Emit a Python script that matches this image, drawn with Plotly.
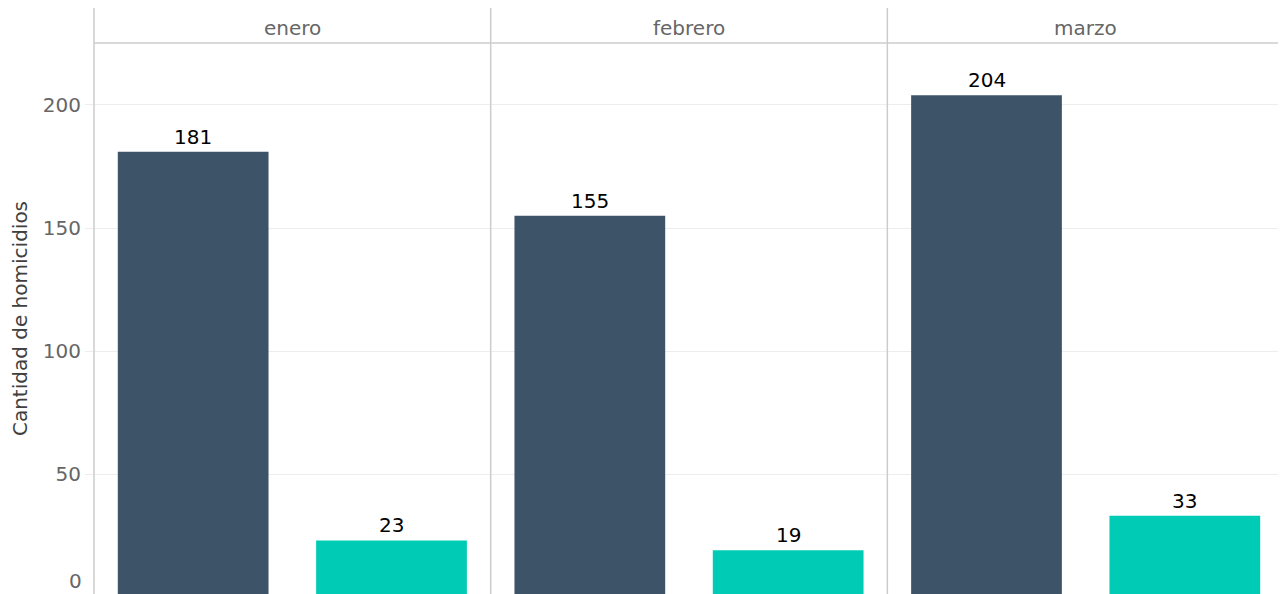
import plotly.graph_objects as go
from plotly.subplots import make_subplots

meses = ["enero", "febrero", "marzo"]
grupos = ["Grupo 1", "Grupo 2"]
valores = {
    "enero": [181, 23],
    "febrero": [155, 19],
    "marzo": [204, 33],
}
colores = ["#3D5468", "#00CBB5"]
y_ticks = [50, 100, 150, 200]

# page has an 8px body margin; the figure is sized to fill the rest of the window
W, H = 1278, 586
ML, MR, MT, MB = 86, 2, 35, 0
plot_h = H - MT - MB
FONT = "DejaVu Sans"
FS = 20

fig = make_subplots(rows=1, cols=3, shared_yaxes=True, horizontal_spacing=0)

for i, mes in enumerate(meses):
    fig.add_trace(
        go.Bar(
            x=grupos,
            y=valores[mes],
            marker=dict(color=colores, line=dict(width=0)),
            width=0.76,
            showlegend=False,
            hoverinfo="x+y",
        ),
        row=1, col=i + 1,
    )
    xref = "x" if i == 0 else f"x{i+1}"
    yref = "y" if i == 0 else f"y{i+1}"
    for g, v in zip(grupos, valores[mes]):
        fig.add_annotation(
            x=g, y=v, xref=xref, yref=yref, text=str(v),
            showarrow=False, yanchor="bottom", yshift=1,
            font=dict(family=FONT, size=FS, color="#000000"),
        )

for i in range(3):
    fig.update_xaxes(
        showticklabels=False, showgrid=False, zeroline=False, ticks="",
        range=[-0.5, 1.5], row=1, col=i + 1,
    )
    fig.update_yaxes(
        range=[1.22, 225.2], tickvals=y_ticks, showgrid=True,
        gridcolor="#EDEDED", gridwidth=1, zeroline=False,
        row=1, col=i + 1,
    )

fig.update_yaxes(
    ticks="outside", ticklen=8, tickcolor="#EDEDED", tickwidth=1,
    tickfont=dict(family=FONT, size=FS, color="#666666"),
    title=dict(text="Cantidad de homicidios",
               font=dict(family=FONT, size=FS, color="#404040"),
               standoff=10),
    row=1, col=1,
)

# "0" tick label (the zero line sits just below the visible area)
fig.add_annotation(
    x=0, y=0, xref="paper", yref="paper", text="0", showarrow=False,
    xanchor="right", yanchor="bottom", xshift=-11, borderpad=0,
    font=dict(family=FONT, size=FS, color="#666666"),
)

# strip labels and panel borders
top_ext = 1 + MT / plot_h
for i, mes in enumerate(meses):
    x0 = i / 3
    fig.add_annotation(
        x=x0 + 1 / 6, y=1 + (MT - 20) / plot_h, xref="paper", yref="paper",
        text=mes, showarrow=False, xanchor="center", yanchor="middle",
        font=dict(family=FONT, size=FS, color="#666666"),
    )
for xv in [0, 1 / 3, 2 / 3, 1]:
    fig.add_shape(
        type="line", xref="paper", yref="paper", x0=xv, x1=xv, y0=0, y1=top_ext,
        line=dict(color="#CCCCCC", width=1.5), layer="above",
    )
fig.add_shape(
    type="line", xref="paper", yref="paper", x0=0, x1=1, y0=1, y1=1,
    line=dict(color="#CCCCCC", width=1.5), layer="above",
)

fig.update_layout(
    width=W, height=H,
    margin=dict(l=ML, r=MR, t=MT, b=MB),
    plot_bgcolor="white", paper_bgcolor="white",
    font=dict(family=FONT),
)

fig.write_html("out.html")
